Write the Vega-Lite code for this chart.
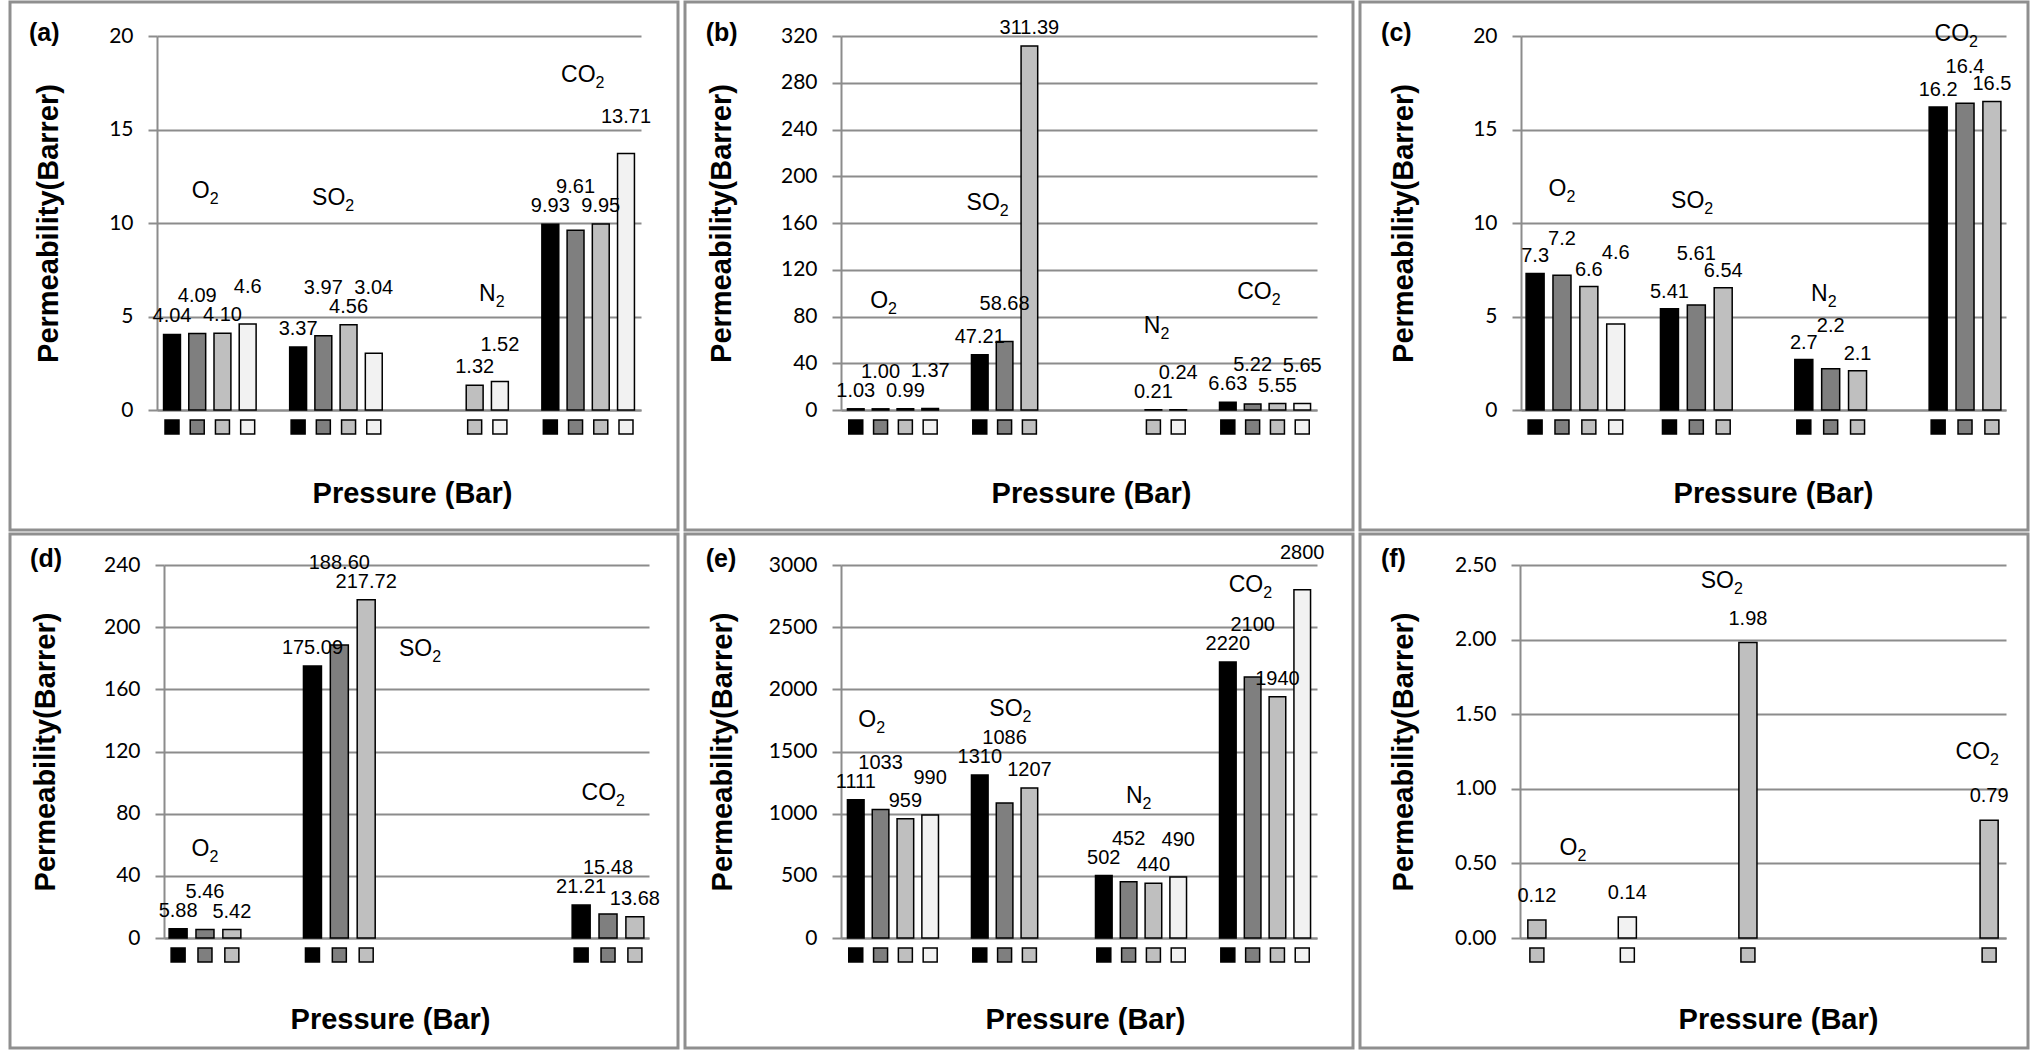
{
  "$schema": "https://vega.github.io/schema/vega-lite/v6.json",
  "background": "white",
  "padding": {"left": 8, "top": 0, "right": 0, "bottom": 0},
  "config": {
    "font": "Liberation Sans",
    "view": {"stroke": "#8f8f8f", "strokeWidth": 3},
    "axis": {"domainColor": "#8c8c8c", "domainWidth": 2, "gridColor": "#8c8c8c", "gridWidth": 2, "tickColor": "#8c8c8c", "tickWidth": 2, "tickSize": 9, "labelFont": "Lato", "labelFontSize": 21, "labelColor": "#000", "labelPadding": 15, "titleFont": "Liberation Sans", "titleFontSize": 29, "titleFontWeight": "bold", "titleColor": "#000"},
    "axisX": {"grid": false, "ticks": false, "labels": false},
    "axisY": {"grid": true},
    "text": {"color": "#000"}
  },
  "spacing": 0,
  "vconcat": [
    {"spacing": 3, "hconcat": [
      {
        "width": 668, "height": 528,
        "data": {"values": [
          {"gas": "O2", "bar": "O2-1", "p": "1", "v": 4.04, "t": "4.04"},
          {"gas": "O2", "bar": "O2-2", "p": "2", "v": 4.09, "t": "4.09"},
          {"gas": "O2", "bar": "O2-3", "p": "3", "v": 4.10, "t": "4.10"},
          {"gas": "O2", "bar": "O2-4", "p": "4", "v": 4.6, "t": "4.6"},
          {"gas": "SO2", "bar": "SO2-1", "p": "1", "v": 3.37, "t": "3.37"},
          {"gas": "SO2", "bar": "SO2-2", "p": "2", "v": 3.97, "t": "3.97"},
          {"gas": "SO2", "bar": "SO2-3", "p": "3", "v": 4.56, "t": "4.56"},
          {"gas": "SO2", "bar": "SO2-4", "p": "4", "v": 3.04, "t": "3.04"},
          {"gas": "N2", "bar": "N2-3", "p": "3", "v": 1.32, "t": "1.32"},
          {"gas": "N2", "bar": "N2-4", "p": "4", "v": 1.52, "t": "1.52"},
          {"gas": "CO2", "bar": "CO2-1", "p": "1", "v": 9.93, "t": "9.93"},
          {"gas": "CO2", "bar": "CO2-2", "p": "2", "v": 9.61, "t": "9.61"},
          {"gas": "CO2", "bar": "CO2-3", "p": "3", "v": 9.95, "t": "9.95"},
          {"gas": "CO2", "bar": "CO2-4", "p": "4", "v": 13.71, "t": "13.71"}
        ]},
        "encoding": {
          "x": {"field": "bar", "type": "nominal", "scale": {"domain": ["O2-1","O2-2","O2-3","O2-4","g1","SO2-1","SO2-2","SO2-3","SO2-4","g2","N2-1","N2-2","N2-3","N2-4","g3","CO2-1","CO2-2","CO2-3","CO2-4"], "range": [147, 631], "paddingInner": 0.33, "paddingOuter": 0.26}, "axis": {"title": "Pressure (Bar)", "offset": -120, "titleX": 402, "titlePadding": 69}},
          "y": {"field": "v", "type": "quantitative", "scale": {"domain": [0, 20], "range": [408, 34], "nice": false}, "axis": {"title": "Permeability(Barrer)", "values": [0, 5, 10, 15, 20], "offset": -147, "titleX": -109, "titleBaseline": "middle"}}
        },
        "layer": [
          {"mark": {"type": "bar", "stroke": "#000", "strokeWidth": 1.5}, "encoding": {"color": {"field": "p", "type": "nominal", "scale": {"domain": ["1","2","3","4"], "range": ["#000000","#7f7f7f","#bfbfbf","#f2f2f2"]}, "legend": null}}},
          {"mark": {"type": "point", "shape": "square", "filled": true, "size": 196, "stroke": "#000", "strokeWidth": 1.5, "opacity": 1, "yOffset": 17}, "encoding": {"y": {"datum": 0, "title": "Permeability(Barrer)"}, "color": {"field": "p", "type": "nominal", "legend": null}}},
          {"transform": [{"filter": {"field": "p", "oneOf": ["1","3"]}}], "mark": {"type": "text", "baseline": "bottom", "dy": -8, "fontSize": 20}, "encoding": {"text": {"field": "t"}}},
          {"transform": [{"window": [{"op": "lag", "field": "v", "as": "vp"}, {"op": "lead", "field": "v", "as": "vn"}], "groupby": ["gas"], "sort": [{"field": "bar", "order": "ascending"}]}, {"calculate": "max(datum.v, (datum.vp != null && datum.vp <= 1.5 * datum.v) ? datum.vp : 0, (datum.vn != null && datum.vn <= 1.5 * datum.v) ? datum.vn : 0)", "as": "ly"}, {"filter": {"field": "p", "oneOf": ["2","4"]}}], "mark": {"type": "text", "baseline": "bottom", "dy": -27, "fontSize": 20}, "encoding": {"y": {"field": "ly", "type": "quantitative", "title": "Permeability(Barrer)"}, "text": {"field": "t"}}},
          {"transform": [{"filter": {"field": "bar", "equal": "O2-1"}}], "mark": {"type": "text", "text": "(a)", "fontSize": 25, "fontWeight": "bold", "align": "left", "baseline": "alphabetic", "dx": -143, "dy": 5}, "encoding": {"y": {"datum": 20, "title": "Permeability(Barrer)"}}},
          {"transform": [{"filter": {"field": "bar", "equal": "O2-2"}}], "mark": {"type": "text", "text": "O", "fontSize": 23, "align": "right", "baseline": "middle", "dx": 12.5}, "encoding": {"y": {"datum": 11.7, "title": "Permeability(Barrer)"}}},
          {"transform": [{"filter": {"field": "bar", "equal": "O2-2"}}], "mark": {"type": "text", "text": "2", "fontSize": 16, "align": "left", "baseline": "middle", "dx": 12.5, "dy": 8}, "encoding": {"y": {"datum": 11.7, "title": "Permeability(Barrer)"}}},
          {"transform": [{"filter": {"field": "bar", "equal": "SO2-2"}}], "mark": {"type": "text", "text": "SO", "fontSize": 23, "align": "right", "baseline": "middle", "dx": 22}, "encoding": {"y": {"datum": 11.35, "title": "Permeability(Barrer)"}}},
          {"transform": [{"filter": {"field": "bar", "equal": "SO2-2"}}], "mark": {"type": "text", "text": "2", "fontSize": 16, "align": "left", "baseline": "middle", "dx": 22, "dy": 8}, "encoding": {"y": {"datum": 11.35, "title": "Permeability(Barrer)"}}},
          {"transform": [{"filter": {"field": "bar", "equal": "N2-3"}}], "mark": {"type": "text", "text": "N", "fontSize": 23, "align": "right", "baseline": "middle", "dx": 21}, "encoding": {"y": {"datum": 6.2, "title": "Permeability(Barrer)"}}},
          {"transform": [{"filter": {"field": "bar", "equal": "N2-3"}}], "mark": {"type": "text", "text": "2", "fontSize": 16, "align": "left", "baseline": "middle", "dx": 21, "dy": 8}, "encoding": {"y": {"datum": 6.2, "title": "Permeability(Barrer)"}}},
          {"transform": [{"filter": {"field": "bar", "equal": "CO2-2"}}], "mark": {"type": "text", "text": "CO", "fontSize": 23, "align": "right", "baseline": "middle", "dx": 20}, "encoding": {"y": {"datum": 17.9, "title": "Permeability(Barrer)"}}},
          {"transform": [{"filter": {"field": "bar", "equal": "CO2-2"}}], "mark": {"type": "text", "text": "2", "fontSize": 16, "align": "left", "baseline": "middle", "dx": 20, "dy": 8}, "encoding": {"y": {"datum": 17.9, "title": "Permeability(Barrer)"}}}
        ]
      },
      {
        "width": 668, "height": 528,
        "data": {"values": [
          {"gas": "O2", "bar": "O2-1", "p": "1", "v": 1.03, "t": "1.03"},
          {"gas": "O2", "bar": "O2-2", "p": "2", "v": 1.00, "t": "1.00"},
          {"gas": "O2", "bar": "O2-3", "p": "3", "v": 0.99, "t": "0.99"},
          {"gas": "O2", "bar": "O2-4", "p": "4", "v": 1.37, "t": "1.37"},
          {"gas": "SO2", "bar": "SO2-1", "p": "1", "v": 47.21, "t": "47.21"},
          {"gas": "SO2", "bar": "SO2-2", "p": "2", "v": 58.68, "t": "58.68"},
          {"gas": "SO2", "bar": "SO2-3", "p": "3", "v": 311.39, "t": "311.39"},
          {"gas": "N2", "bar": "N2-3", "p": "3", "v": 0.21, "t": "0.21"},
          {"gas": "N2", "bar": "N2-4", "p": "4", "v": 0.24, "t": "0.24"},
          {"gas": "CO2", "bar": "CO2-1", "p": "1", "v": 6.63, "t": "6.63"},
          {"gas": "CO2", "bar": "CO2-2", "p": "2", "v": 5.22, "t": "5.22"},
          {"gas": "CO2", "bar": "CO2-3", "p": "3", "v": 5.55, "t": "5.55"},
          {"gas": "CO2", "bar": "CO2-4", "p": "4", "v": 5.65, "t": "5.65"}
        ]},
        "encoding": {
          "x": {"field": "bar", "type": "nominal", "scale": {"domain": ["O2-1","O2-2","O2-3","O2-4","g1","SO2-1","SO2-2","SO2-3","SO2-4","g2","N2-1","N2-2","N2-3","N2-4","g3","CO2-1","CO2-2","CO2-3","CO2-4"], "range": [156, 632], "paddingInner": 0.33, "paddingOuter": 0.26}, "axis": {"title": "Pressure (Bar)", "offset": -120, "titleX": 406, "titlePadding": 69}},
          "y": {"field": "v", "type": "quantitative", "scale": {"domain": [0, 320], "range": [408, 34], "nice": false}, "axis": {"title": "Permeability(Barrer)", "values": [0, 40, 80, 120, 160, 200, 240, 280, 320], "offset": -156, "titleX": -120, "titleBaseline": "middle"}}
        },
        "layer": [
          {"mark": {"type": "bar", "stroke": "#000", "strokeWidth": 1.5}, "encoding": {"color": {"field": "p", "type": "nominal", "scale": {"domain": ["1","2","3","4"], "range": ["#000000","#7f7f7f","#bfbfbf","#f2f2f2"]}, "legend": null}}},
          {"mark": {"type": "point", "shape": "square", "filled": true, "size": 196, "stroke": "#000", "strokeWidth": 1.5, "opacity": 1, "yOffset": 17}, "encoding": {"y": {"datum": 0, "title": "Permeability(Barrer)"}, "color": {"field": "p", "type": "nominal", "legend": null}}},
          {"transform": [{"filter": {"field": "p", "oneOf": ["1","3"]}}], "mark": {"type": "text", "baseline": "bottom", "dy": -8, "fontSize": 20}, "encoding": {"text": {"field": "t"}}},
          {"transform": [{"window": [{"op": "lag", "field": "v", "as": "vp"}, {"op": "lead", "field": "v", "as": "vn"}], "groupby": ["gas"], "sort": [{"field": "bar", "order": "ascending"}]}, {"calculate": "max(datum.v, (datum.vp != null && datum.vp <= 1.5 * datum.v) ? datum.vp : 0, (datum.vn != null && datum.vn <= 1.5 * datum.v) ? datum.vn : 0)", "as": "ly"}, {"filter": {"field": "p", "oneOf": ["2","4"]}}], "mark": {"type": "text", "baseline": "bottom", "dy": -27, "fontSize": 20}, "encoding": {"y": {"field": "ly", "type": "quantitative", "title": "Permeability(Barrer)"}, "text": {"field": "t"}}},
          {"transform": [{"filter": {"field": "bar", "equal": "O2-1"}}], "mark": {"type": "text", "text": "(b)", "fontSize": 25, "fontWeight": "bold", "align": "left", "baseline": "alphabetic", "dx": -150, "dy": 5}, "encoding": {"y": {"datum": 320, "title": "Permeability(Barrer)"}}},
          {"transform": [{"filter": {"field": "bar", "equal": "O2-2"}}], "mark": {"type": "text", "text": "O", "fontSize": 23, "align": "right", "baseline": "middle", "dx": 7.5}, "encoding": {"y": {"datum": 93.5, "title": "Permeability(Barrer)"}}},
          {"transform": [{"filter": {"field": "bar", "equal": "O2-2"}}], "mark": {"type": "text", "text": "2", "fontSize": 16, "align": "left", "baseline": "middle", "dx": 7.5, "dy": 8}, "encoding": {"y": {"datum": 93.5, "title": "Permeability(Barrer)"}}},
          {"transform": [{"filter": {"field": "bar", "equal": "SO2-1"}}], "mark": {"type": "text", "text": "SO", "fontSize": 23, "align": "right", "baseline": "middle", "dx": 20}, "encoding": {"y": {"datum": 177, "title": "Permeability(Barrer)"}}},
          {"transform": [{"filter": {"field": "bar", "equal": "SO2-1"}}], "mark": {"type": "text", "text": "2", "fontSize": 16, "align": "left", "baseline": "middle", "dx": 20, "dy": 8}, "encoding": {"y": {"datum": 177, "title": "Permeability(Barrer)"}}},
          {"transform": [{"filter": {"field": "bar", "equal": "N2-3"}}], "mark": {"type": "text", "text": "N", "fontSize": 23, "align": "right", "baseline": "middle", "dx": 7}, "encoding": {"y": {"datum": 72, "title": "Permeability(Barrer)"}}},
          {"transform": [{"filter": {"field": "bar", "equal": "N2-3"}}], "mark": {"type": "text", "text": "2", "fontSize": 16, "align": "left", "baseline": "middle", "dx": 7, "dy": 8}, "encoding": {"y": {"datum": 72, "title": "Permeability(Barrer)"}}},
          {"transform": [{"filter": {"field": "bar", "equal": "CO2-2"}}], "mark": {"type": "text", "text": "CO", "fontSize": 23, "align": "right", "baseline": "middle", "dx": 19}, "encoding": {"y": {"datum": 101, "title": "Permeability(Barrer)"}}},
          {"transform": [{"filter": {"field": "bar", "equal": "CO2-2"}}], "mark": {"type": "text", "text": "2", "fontSize": 16, "align": "left", "baseline": "middle", "dx": 19, "dy": 8}, "encoding": {"y": {"datum": 101, "title": "Permeability(Barrer)"}}}
        ]
      },
      {
        "width": 668, "height": 528,
        "data": {"values": [
          {"gas": "O2", "bar": "O2-1", "p": "1", "v": 7.3, "t": "7.3"},
          {"gas": "O2", "bar": "O2-2", "p": "2", "v": 7.2, "t": "7.2"},
          {"gas": "O2", "bar": "O2-3", "p": "3", "v": 6.6, "t": "6.6"},
          {"gas": "O2", "bar": "O2-4", "p": "4", "v": 4.6, "t": "4.6"},
          {"gas": "SO2", "bar": "SO2-1", "p": "1", "v": 5.41, "t": "5.41"},
          {"gas": "SO2", "bar": "SO2-2", "p": "2", "v": 5.61, "t": "5.61"},
          {"gas": "SO2", "bar": "SO2-3", "p": "3", "v": 6.54, "t": "6.54"},
          {"gas": "N2", "bar": "N2-1", "p": "1", "v": 2.7, "t": "2.7"},
          {"gas": "N2", "bar": "N2-2", "p": "2", "v": 2.2, "t": "2.2"},
          {"gas": "N2", "bar": "N2-3", "p": "3", "v": 2.1, "t": "2.1"},
          {"gas": "CO2", "bar": "CO2-1", "p": "1", "v": 16.2, "t": "16.2"},
          {"gas": "CO2", "bar": "CO2-2", "p": "2", "v": 16.4, "t": "16.4"},
          {"gas": "CO2", "bar": "CO2-3", "p": "3", "v": 16.5, "t": "16.5"}
        ]},
        "encoding": {
          "x": {"field": "bar", "type": "nominal", "scale": {"domain": ["O2-1","O2-2","O2-3","O2-4","g1","SO2-1","SO2-2","SO2-3","SO2-4","g2","N2-1","N2-2","N2-3","N2-4","g3","CO2-1","CO2-2","CO2-3"], "range": [161, 646], "paddingInner": 0.33, "paddingOuter": 0.19}, "axis": {"title": "Pressure (Bar)", "offset": -120, "titleX": 413, "titlePadding": 69}},
          "y": {"field": "v", "type": "quantitative", "scale": {"domain": [0, 20], "range": [408, 34], "nice": false}, "axis": {"title": "Permeability(Barrer)", "values": [0, 5, 10, 15, 20], "offset": -161, "titleX": -118, "titleBaseline": "middle"}}
        },
        "layer": [
          {"mark": {"type": "bar", "stroke": "#000", "strokeWidth": 1.5}, "encoding": {"color": {"field": "p", "type": "nominal", "scale": {"domain": ["1","2","3","4"], "range": ["#000000","#7f7f7f","#bfbfbf","#f2f2f2"]}, "legend": null}}},
          {"mark": {"type": "point", "shape": "square", "filled": true, "size": 196, "stroke": "#000", "strokeWidth": 1.5, "opacity": 1, "yOffset": 17}, "encoding": {"y": {"datum": 0, "title": "Permeability(Barrer)"}, "color": {"field": "p", "type": "nominal", "legend": null}}},
          {"transform": [{"filter": {"field": "p", "oneOf": ["1","3"]}}], "mark": {"type": "text", "baseline": "bottom", "dy": -7, "fontSize": 20}, "encoding": {"text": {"field": "t"}}},
          {"transform": [{"window": [{"op": "lag", "field": "v", "as": "vp"}, {"op": "lead", "field": "v", "as": "vn"}], "groupby": ["gas"], "sort": [{"field": "bar", "order": "ascending"}]}, {"calculate": "max(datum.v, (datum.vp != null && datum.vp <= 1.5 * datum.v) ? datum.vp : 0, (datum.vn != null && datum.vn <= 1.5 * datum.v) ? datum.vn : 0)", "as": "ly"}, {"filter": {"field": "p", "oneOf": ["2","4"]}}], "mark": {"type": "text", "baseline": "bottom", "dy": -24, "fontSize": 20}, "encoding": {"y": {"field": "ly", "type": "quantitative", "title": "Permeability(Barrer)"}, "text": {"field": "t"}}},
          {"transform": [{"filter": {"field": "bar", "equal": "O2-1"}}], "mark": {"type": "text", "text": "(c)", "fontSize": 25, "fontWeight": "bold", "align": "left", "baseline": "alphabetic", "dx": -154, "dy": 5}, "encoding": {"y": {"datum": 20, "title": "Permeability(Barrer)"}}},
          {"transform": [{"filter": {"field": "bar", "equal": "O2-2"}}], "mark": {"type": "text", "text": "O", "fontSize": 23, "align": "right", "baseline": "middle", "dx": 4.5}, "encoding": {"y": {"datum": 11.8, "title": "Permeability(Barrer)"}}},
          {"transform": [{"filter": {"field": "bar", "equal": "O2-2"}}], "mark": {"type": "text", "text": "2", "fontSize": 16, "align": "left", "baseline": "middle", "dx": 4.5, "dy": 8}, "encoding": {"y": {"datum": 11.8, "title": "Permeability(Barrer)"}}},
          {"transform": [{"filter": {"field": "bar", "equal": "SO2-2"}}], "mark": {"type": "text", "text": "SO", "fontSize": 23, "align": "right", "baseline": "middle", "dx": 8}, "encoding": {"y": {"datum": 11.2, "title": "Permeability(Barrer)"}}},
          {"transform": [{"filter": {"field": "bar", "equal": "SO2-2"}}], "mark": {"type": "text", "text": "2", "fontSize": 16, "align": "left", "baseline": "middle", "dx": 8, "dy": 8}, "encoding": {"y": {"datum": 11.2, "title": "Permeability(Barrer)"}}},
          {"transform": [{"filter": {"field": "bar", "equal": "N2-2"}}], "mark": {"type": "text", "text": "N", "fontSize": 23, "align": "right", "baseline": "middle", "dx": -3}, "encoding": {"y": {"datum": 6.2, "title": "Permeability(Barrer)"}}},
          {"transform": [{"filter": {"field": "bar", "equal": "N2-2"}}], "mark": {"type": "text", "text": "2", "fontSize": 16, "align": "left", "baseline": "middle", "dx": -3, "dy": 8}, "encoding": {"y": {"datum": 6.2, "title": "Permeability(Barrer)"}}},
          {"transform": [{"filter": {"field": "bar", "equal": "CO2-2"}}], "mark": {"type": "text", "text": "CO", "fontSize": 23, "align": "right", "baseline": "middle", "dx": 4}, "encoding": {"y": {"datum": 20.1, "title": "Permeability(Barrer)"}}},
          {"transform": [{"filter": {"field": "bar", "equal": "CO2-2"}}], "mark": {"type": "text", "text": "2", "fontSize": 16, "align": "left", "baseline": "middle", "dx": 4, "dy": 8}, "encoding": {"y": {"datum": 20.1, "title": "Permeability(Barrer)"}}}
        ]
      }
    ]},
    {"spacing": 3, "hconcat": [
      {
        "width": 668, "height": 514,
        "data": {"values": [
          {"gas": "O2", "bar": "O2-1", "p": "1", "v": 5.88, "t": "5.88"},
          {"gas": "O2", "bar": "O2-2", "p": "2", "v": 5.46, "t": "5.46"},
          {"gas": "O2", "bar": "O2-3", "p": "3", "v": 5.42, "t": "5.42"},
          {"gas": "SO2", "bar": "SO2-1", "p": "1", "v": 175.09, "t": "175.09"},
          {"gas": "SO2", "bar": "SO2-2", "p": "2", "v": 188.60, "t": "188.60"},
          {"gas": "SO2", "bar": "SO2-3", "p": "3", "v": 217.72, "t": "217.72"},
          {"gas": "CO2", "bar": "CO2-1", "p": "1", "v": 21.21, "t": "21.21"},
          {"gas": "CO2", "bar": "CO2-2", "p": "2", "v": 15.48, "t": "15.48"},
          {"gas": "CO2", "bar": "CO2-3", "p": "3", "v": 13.68, "t": "13.68"}
        ]},
        "encoding": {
          "x": {"field": "bar", "type": "nominal", "scale": {"domain": ["O2-1","O2-2","O2-3","O2-4","g1","SO2-1","SO2-2","SO2-3","SO2-4","g2","N2-1","N2-2","N2-3","N2-4","g3","CO2-1","CO2-2","CO2-3"], "range": [154, 639], "paddingInner": 0.33, "paddingOuter": 0.19}, "axis": {"title": "Pressure (Bar)", "offset": -110, "titleX": 380, "titlePadding": 67}},
          "y": {"field": "v", "type": "quantitative", "scale": {"domain": [0, 240], "range": [404, 31], "nice": false}, "axis": {"title": "Permeability(Barrer)", "values": [0, 40, 80, 120, 160, 200, 240], "offset": -154, "titleX": -119, "titleBaseline": "middle"}}
        },
        "layer": [
          {"mark": {"type": "bar", "stroke": "#000", "strokeWidth": 1.5}, "encoding": {"color": {"field": "p", "type": "nominal", "scale": {"domain": ["1","2","3","4"], "range": ["#000000","#7f7f7f","#bfbfbf","#f2f2f2"]}, "legend": null}}},
          {"mark": {"type": "point", "shape": "square", "filled": true, "size": 196, "stroke": "#000", "strokeWidth": 1.5, "opacity": 1, "yOffset": 17}, "encoding": {"y": {"datum": 0, "title": "Permeability(Barrer)"}, "color": {"field": "p", "type": "nominal", "legend": null}}},
          {"transform": [{"filter": {"field": "p", "oneOf": ["1","3"]}}], "mark": {"type": "text", "baseline": "bottom", "dy": -8, "fontSize": 20}, "encoding": {"text": {"field": "t"}}},
          {"transform": [{"window": [{"op": "lag", "field": "v", "as": "vp"}, {"op": "lead", "field": "v", "as": "vn"}], "groupby": ["gas"], "sort": [{"field": "bar", "order": "ascending"}]}, {"calculate": "max(datum.v, (datum.vp != null && datum.vp <= 1.5 * datum.v) ? datum.vp : 0, (datum.vn != null && datum.vn <= 1.5 * datum.v) ? datum.vn : 0)", "as": "ly"}, {"filter": {"field": "p", "oneOf": ["2","4"]}}], "mark": {"type": "text", "baseline": "bottom", "dy": -27, "fontSize": 20}, "encoding": {"y": {"field": "ly", "type": "quantitative", "title": "Permeability(Barrer)"}, "text": {"field": "t"}}},
          {"transform": [{"filter": {"field": "bar", "equal": "O2-1"}}], "mark": {"type": "text", "text": "(d)", "fontSize": 25, "fontWeight": "bold", "align": "left", "baseline": "alphabetic", "dx": -148, "dy": 2}, "encoding": {"y": {"datum": 240, "title": "Permeability(Barrer)"}}},
          {"transform": [{"filter": {"field": "bar", "equal": "O2-2"}}], "mark": {"type": "text", "text": "O", "fontSize": 23, "align": "right", "baseline": "middle", "dx": 4.5}, "encoding": {"y": {"datum": 57.5, "title": "Permeability(Barrer)"}}},
          {"transform": [{"filter": {"field": "bar", "equal": "O2-2"}}], "mark": {"type": "text", "text": "2", "fontSize": 16, "align": "left", "baseline": "middle", "dx": 4.5, "dy": 8}, "encoding": {"y": {"datum": 57.5, "title": "Permeability(Barrer)"}}},
          {"transform": [{"filter": {"field": "bar", "equal": "SO2-3"}}], "mark": {"type": "text", "text": "SO", "fontSize": 23, "align": "right", "baseline": "middle", "dx": 66}, "encoding": {"y": {"datum": 186, "title": "Permeability(Barrer)"}}},
          {"transform": [{"filter": {"field": "bar", "equal": "SO2-3"}}], "mark": {"type": "text", "text": "2", "fontSize": 16, "align": "left", "baseline": "middle", "dx": 66, "dy": 8}, "encoding": {"y": {"datum": 186, "title": "Permeability(Barrer)"}}},
          {"transform": [{"filter": {"field": "bar", "equal": "CO2-2"}}], "mark": {"type": "text", "text": "CO", "fontSize": 23, "align": "right", "baseline": "middle", "dx": 8}, "encoding": {"y": {"datum": 93, "title": "Permeability(Barrer)"}}},
          {"transform": [{"filter": {"field": "bar", "equal": "CO2-2"}}], "mark": {"type": "text", "text": "2", "fontSize": 16, "align": "left", "baseline": "middle", "dx": 8, "dy": 8}, "encoding": {"y": {"datum": 93, "title": "Permeability(Barrer)"}}}
        ]
      },
      {
        "width": 668, "height": 514,
        "data": {"values": [
          {"gas": "O2", "bar": "O2-1", "p": "1", "v": 1111, "t": "1111"},
          {"gas": "O2", "bar": "O2-2", "p": "2", "v": 1033, "t": "1033"},
          {"gas": "O2", "bar": "O2-3", "p": "3", "v": 959, "t": "959"},
          {"gas": "O2", "bar": "O2-4", "p": "4", "v": 990, "t": "990"},
          {"gas": "SO2", "bar": "SO2-1", "p": "1", "v": 1310, "t": "1310"},
          {"gas": "SO2", "bar": "SO2-2", "p": "2", "v": 1086, "t": "1086"},
          {"gas": "SO2", "bar": "SO2-3", "p": "3", "v": 1207, "t": "1207"},
          {"gas": "N2", "bar": "N2-1", "p": "1", "v": 502, "t": "502"},
          {"gas": "N2", "bar": "N2-2", "p": "2", "v": 452, "t": "452"},
          {"gas": "N2", "bar": "N2-3", "p": "3", "v": 440, "t": "440"},
          {"gas": "N2", "bar": "N2-4", "p": "4", "v": 490, "t": "490"},
          {"gas": "CO2", "bar": "CO2-1", "p": "1", "v": 2220, "t": "2220"},
          {"gas": "CO2", "bar": "CO2-2", "p": "2", "v": 2100, "t": "2100"},
          {"gas": "CO2", "bar": "CO2-3", "p": "3", "v": 1940, "t": "1940"},
          {"gas": "CO2", "bar": "CO2-4", "p": "4", "v": 2800, "t": "2800"}
        ]},
        "encoding": {
          "x": {"field": "bar", "type": "nominal", "scale": {"domain": ["O2-1","O2-2","O2-3","O2-4","g1","SO2-1","SO2-2","SO2-3","SO2-4","g2","N2-1","N2-2","N2-3","N2-4","g3","CO2-1","CO2-2","CO2-3","CO2-4"], "range": [156, 632], "paddingInner": 0.33, "paddingOuter": 0.26}, "axis": {"title": "Pressure (Bar)", "offset": -110, "titleX": 400, "titlePadding": 67}},
          "y": {"field": "v", "type": "quantitative", "scale": {"domain": [0, 3000], "range": [404, 31], "nice": false}, "axis": {"title": "Permeability(Barrer)", "values": [0, 500, 1000, 1500, 2000, 2500, 3000], "format": "d", "offset": -156, "titleX": -119, "titleBaseline": "middle"}}
        },
        "layer": [
          {"mark": {"type": "bar", "stroke": "#000", "strokeWidth": 1.5}, "encoding": {"color": {"field": "p", "type": "nominal", "scale": {"domain": ["1","2","3","4"], "range": ["#000000","#7f7f7f","#bfbfbf","#f2f2f2"]}, "legend": null}}},
          {"mark": {"type": "point", "shape": "square", "filled": true, "size": 196, "stroke": "#000", "strokeWidth": 1.5, "opacity": 1, "yOffset": 17}, "encoding": {"y": {"datum": 0, "title": "Permeability(Barrer)"}, "color": {"field": "p", "type": "nominal", "legend": null}}},
          {"transform": [{"filter": {"field": "p", "oneOf": ["1","3"]}}], "mark": {"type": "text", "baseline": "bottom", "dy": -8, "fontSize": 20}, "encoding": {"text": {"field": "t"}}},
          {"transform": [{"window": [{"op": "lag", "field": "v", "as": "vp"}, {"op": "lead", "field": "v", "as": "vn"}], "groupby": ["gas"], "sort": [{"field": "bar", "order": "ascending"}]}, {"calculate": "max(datum.v, (datum.vp != null && datum.vp <= 1.5 * datum.v) ? datum.vp : 0, (datum.vn != null && datum.vn <= 1.5 * datum.v) ? datum.vn : 0)", "as": "ly"}, {"filter": {"field": "p", "oneOf": ["2","4"]}}], "mark": {"type": "text", "baseline": "bottom", "dy": -27, "fontSize": 20}, "encoding": {"y": {"field": "ly", "type": "quantitative", "title": "Permeability(Barrer)"}, "text": {"field": "t"}}},
          {"transform": [{"filter": {"field": "bar", "equal": "O2-1"}}], "mark": {"type": "text", "text": "(e)", "fontSize": 25, "fontWeight": "bold", "align": "left", "baseline": "alphabetic", "dx": -150, "dy": 2}, "encoding": {"y": {"datum": 3000, "title": "Permeability(Barrer)"}}},
          {"transform": [{"filter": {"field": "bar", "equal": "O2-1"}}], "mark": {"type": "text", "text": "O", "fontSize": 23, "align": "right", "baseline": "middle", "dx": 20.5}, "encoding": {"y": {"datum": 1753, "title": "Permeability(Barrer)"}}},
          {"transform": [{"filter": {"field": "bar", "equal": "O2-1"}}], "mark": {"type": "text", "text": "2", "fontSize": 16, "align": "left", "baseline": "middle", "dx": 20.5, "dy": 8}, "encoding": {"y": {"datum": 1753, "title": "Permeability(Barrer)"}}},
          {"transform": [{"filter": {"field": "bar", "equal": "SO2-2"}}], "mark": {"type": "text", "text": "SO", "fontSize": 23, "align": "right", "baseline": "middle", "dx": 18}, "encoding": {"y": {"datum": 1840, "title": "Permeability(Barrer)"}}},
          {"transform": [{"filter": {"field": "bar", "equal": "SO2-2"}}], "mark": {"type": "text", "text": "2", "fontSize": 16, "align": "left", "baseline": "middle", "dx": 18, "dy": 8}, "encoding": {"y": {"datum": 1840, "title": "Permeability(Barrer)"}}},
          {"transform": [{"filter": {"field": "bar", "equal": "N2-2"}}], "mark": {"type": "text", "text": "N", "fontSize": 23, "align": "right", "baseline": "middle", "dx": 14}, "encoding": {"y": {"datum": 1142, "title": "Permeability(Barrer)"}}},
          {"transform": [{"filter": {"field": "bar", "equal": "N2-2"}}], "mark": {"type": "text", "text": "2", "fontSize": 16, "align": "left", "baseline": "middle", "dx": 14, "dy": 8}, "encoding": {"y": {"datum": 1142, "title": "Permeability(Barrer)"}}},
          {"transform": [{"filter": {"field": "bar", "equal": "CO2-2"}}], "mark": {"type": "text", "text": "CO", "fontSize": 23, "align": "right", "baseline": "middle", "dx": 10.5}, "encoding": {"y": {"datum": 2840, "title": "Permeability(Barrer)"}}},
          {"transform": [{"filter": {"field": "bar", "equal": "CO2-2"}}], "mark": {"type": "text", "text": "2", "fontSize": 16, "align": "left", "baseline": "middle", "dx": 10.5, "dy": 8}, "encoding": {"y": {"datum": 2840, "title": "Permeability(Barrer)"}}}
        ]
      },
      {
        "width": 668, "height": 514,
        "data": {"values": [
          {"gas": "O2", "bar": "O2-1", "p": "3", "v": 0.12, "t": "0.12"},
          {"gas": "O2", "bar": "O2-4", "p": "4", "v": 0.14, "t": "0.14"},
          {"gas": "SO2", "bar": "SO2-4", "p": "3", "v": 1.98, "t": "1.98"},
          {"gas": "CO2", "bar": "CO2-4", "p": "3", "v": 0.79, "t": "0.79"}
        ]},
        "encoding": {
          "x": {"field": "bar", "type": "nominal", "scale": {"domain": ["O2-1","O2-2","O2-3","O2-4","SO2-1","SO2-2","SO2-3","SO2-4","N2-1","N2-2","N2-3","N2-4","CO2-1","CO2-2","CO2-3","CO2-4"], "range": [160, 646], "paddingInner": 0.4, "paddingOuter": 0.26}, "axis": {"title": "Pressure (Bar)", "offset": -110, "titleX": 418, "titlePadding": 67}},
          "y": {"field": "v", "type": "quantitative", "scale": {"domain": [0, 2.5], "range": [404, 31], "nice": false}, "axis": {"title": "Permeability(Barrer)", "values": [0, 0.5, 1, 1.5, 2, 2.5], "format": ".2f", "offset": -160, "titleX": -117, "titleBaseline": "middle"}}
        },
        "layer": [
          {"mark": {"type": "bar", "stroke": "#000", "strokeWidth": 1.5}, "encoding": {"color": {"field": "p", "type": "nominal", "scale": {"domain": ["1","2","3","4"], "range": ["#000000","#7f7f7f","#bfbfbf","#f2f2f2"]}, "legend": null}}},
          {"mark": {"type": "point", "shape": "square", "filled": true, "size": 196, "stroke": "#000", "strokeWidth": 1.5, "opacity": 1, "yOffset": 17}, "encoding": {"y": {"datum": 0, "title": "Permeability(Barrer)"}, "color": {"field": "p", "type": "nominal", "legend": null}}},
          {"mark": {"type": "text", "baseline": "bottom", "dy": -14, "fontSize": 20}, "encoding": {"text": {"field": "t"}}},
          {"transform": [{"filter": {"field": "bar", "equal": "O2-1"}}], "mark": {"type": "text", "text": "(f)", "fontSize": 25, "fontWeight": "bold", "align": "left", "baseline": "alphabetic", "dx": -156, "dy": 2}, "encoding": {"y": {"datum": 2.5, "title": "Permeability(Barrer)"}}},
          {"transform": [{"filter": {"field": "bar", "equal": "O2-1"}}], "mark": {"type": "text", "text": "O", "fontSize": 23, "align": "right", "baseline": "middle", "dx": 40.5}, "encoding": {"y": {"datum": 0.6, "title": "Permeability(Barrer)"}}},
          {"transform": [{"filter": {"field": "bar", "equal": "O2-1"}}], "mark": {"type": "text", "text": "2", "fontSize": 16, "align": "left", "baseline": "middle", "dx": 40.5, "dy": 8}, "encoding": {"y": {"datum": 0.6, "title": "Permeability(Barrer)"}}},
          {"transform": [{"filter": {"field": "bar", "equal": "SO2-4"}}], "mark": {"type": "text", "text": "SO", "fontSize": 23, "align": "right", "baseline": "middle", "dx": -14}, "encoding": {"y": {"datum": 2.39, "title": "Permeability(Barrer)"}}},
          {"transform": [{"filter": {"field": "bar", "equal": "SO2-4"}}], "mark": {"type": "text", "text": "2", "fontSize": 16, "align": "left", "baseline": "middle", "dx": -14, "dy": 8}, "encoding": {"y": {"datum": 2.39, "title": "Permeability(Barrer)"}}},
          {"transform": [{"filter": {"field": "bar", "equal": "CO2-4"}}], "mark": {"type": "text", "text": "CO", "fontSize": 23, "align": "right", "baseline": "middle", "dx": 1}, "encoding": {"y": {"datum": 1.25, "title": "Permeability(Barrer)"}}},
          {"transform": [{"filter": {"field": "bar", "equal": "CO2-4"}}], "mark": {"type": "text", "text": "2", "fontSize": 16, "align": "left", "baseline": "middle", "dx": 1, "dy": 8}, "encoding": {"y": {"datum": 1.25, "title": "Permeability(Barrer)"}}}
        ]
      }
    ]}
  ]
}
